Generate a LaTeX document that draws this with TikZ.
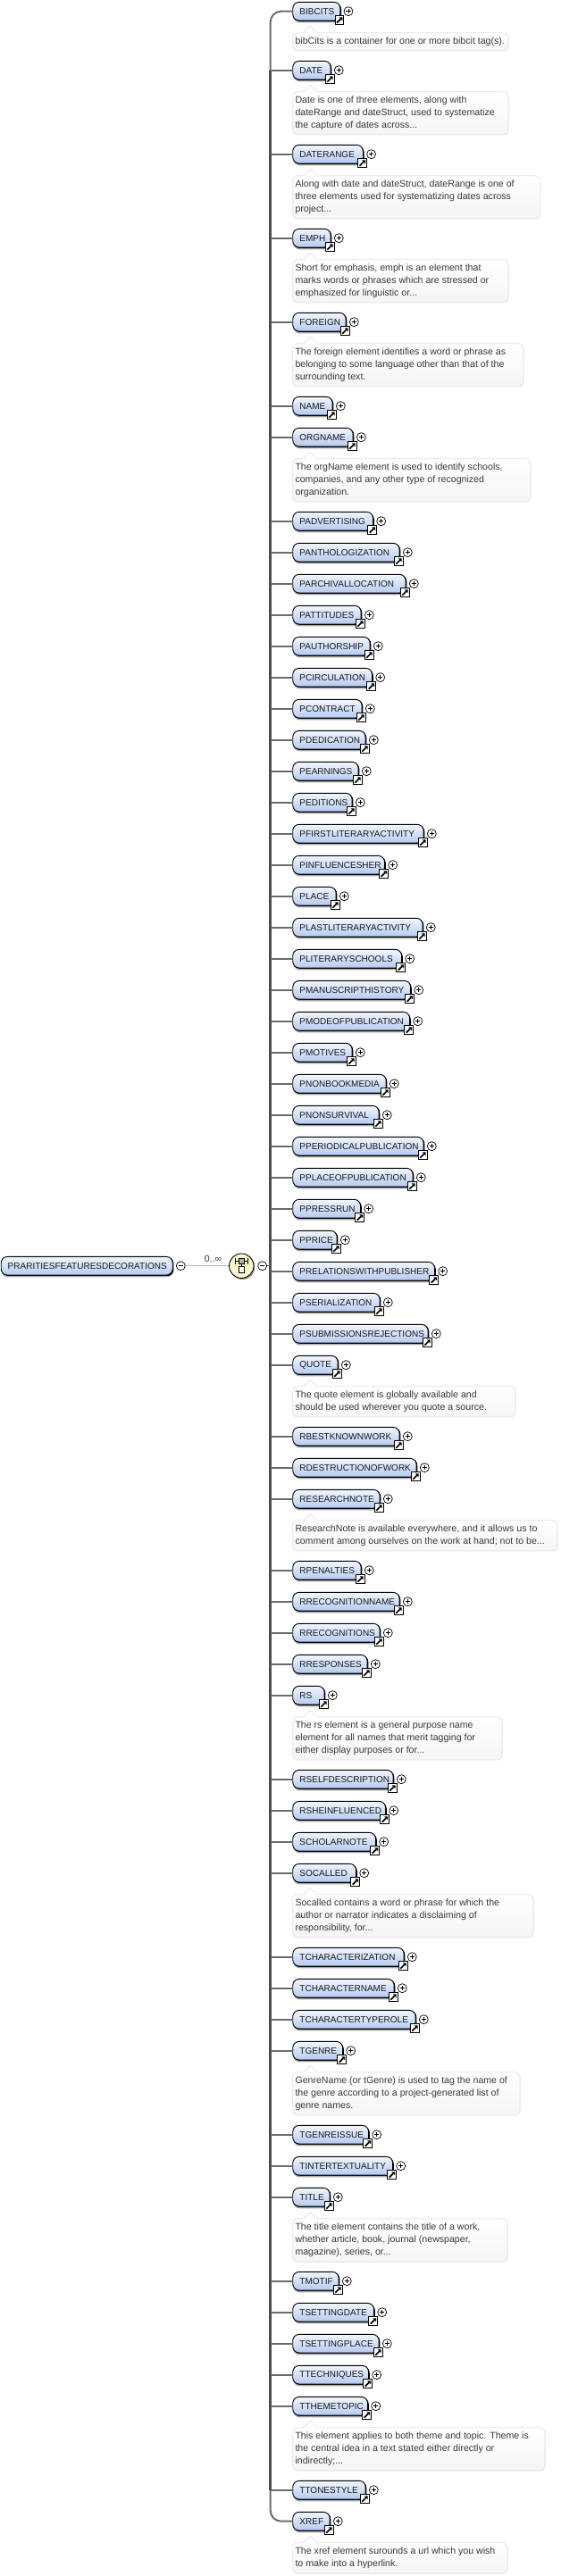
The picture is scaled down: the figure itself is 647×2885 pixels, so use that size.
\documentclass[tikz,border=0pt]{standalone}
\usepackage{fontspec}
\setmainfont{Liberation Sans}
\usetikzlibrary{shadows,calc}
\definecolor{boxtop}{HTML}{F2F6FE}
\definecolor{boxblue}{HTML}{B4CAF0}
\definecolor{annline}{HTML}{E2E2E2}
\definecolor{annfill}{HTML}{F5F5F5}
\definecolor{compfill}{HTML}{FAF7CC}
\tikzset{
  elembox/.style={draw=black,line width=0.9pt,rounded corners=7pt,top color=boxtop,bottom color=boxblue,
    minimum height=20.6pt,inner sep=0pt,anchor=west,text=black!90,
    font=\fontsize{10}{12}\selectfont,
    general shadow={fill=black!35,shadow xshift=0.6pt,shadow yshift=-2.4pt},
    general shadow={fill=black,shadow xshift=1.2pt,shadow yshift=-0.9pt}},
  linkicon/.style={draw=black,line width=1.1pt,fill=white,minimum size=9.6pt,inner sep=0pt},
  treebtn/.style={circle,draw=black,line width=0.7pt,fill=white,minimum size=10pt,inner sep=0pt},
  annbox/.style={draw=annline,line width=0.8pt,rounded corners=6pt,top color=white,bottom color=annfill,
    inner sep=0pt,anchor=north west,text=black!78,font=\fontsize{10.6}{14}\selectfont},
  branch/.style={draw=black!58,line width=2pt},
  spineend/.style={draw=black!58,line width=2pt,rounded corners=12pt},
  spinemain/.style={draw=black!70,line width=3.3pt},
}
% \elem{id}{label}{centre y}{x of the plus button}
\newcommand{\elem}[4]{%
  \pgfmathsetmacro{\elw}{#4-9.6-327.3}%
  \node[elembox,minimum width=\elw pt] (#1) at (327.3,#3) {\makebox[\elw pt][l]{\hspace*{7.7pt}#2}};
  \node[linkicon] (#1-link) at (#4-10,#3+10) {};
  \fill[black,shift={(#1-link.center)}] (-0.6,-3.4) -- (3.4,-3.4) -- (3.4,0.6) -- cycle;
  \draw[black,line width=1.7pt,shift={(#1-link.center)}] (-3,3) -- (1.4,-1.4);
  \node[treebtn] (#1-plus) at (#4,#3) {};
  \draw[black,line width=0.7pt] ($(#1-plus.center)+(-2.6,0)$) -- ($(#1-plus.center)+(2.6,0)$);
  \draw[black,line width=0.7pt] ($(#1-plus.center)+(0,-2.6)$) -- ($(#1-plus.center)+(0,2.6)$);
}
% \ann{id}{centre y of parent}{right edge}{height}{text}
\newcommand{\ann}[5]{%
  \pgfmathsetmacro{\anw}{#3-327.3}%
  \node[annbox,minimum width=\anw pt,minimum height=#4pt] (#1-ann) at (327.3,#2+23.7) {\makebox[\anw pt][l]{\hspace*{2.8pt}\begin{tabular}{@{}l@{}}#5\end{tabular}}};
  \fill[white] ($(#1-ann.north west)+(13,0.5)$) -- ($(#1-ann.north west)+(20,-7)$) -- ($(#1-ann.north west)+(27,0.5)$) -- cycle;
  \draw[annline,line width=0.8pt] ($(#1-ann.north west)+(13,0)$) -- ($(#1-ann.north west)+(20,-7)$) -- ($(#1-ann.north west)+(27,0)$);
}
\begin{document}
\begin{tikzpicture}[x=1pt,y=-1pt]
\useasboundingbox (0,0) rectangle (647,2885);
\coordinate (spt) at (302.7,12.67);
\coordinate (spb) at (302.7,2823.67);

\elem{BIBCITS}{BIBCITS}{12.67}{390}
\ann{BIBCITS}{12.67}{568.7}{20.3}{bibCits is a container for one or more bibcit tag(s).}
\elem{DATE}{DATE}{78.67}{379.3}
\ann{DATE}{78.67}{568.7}{48.3}{Date is one of three elements, along with\\dateRange and dateStruct, used to systematize\\the capture of dates across...}
\elem{DATERANGE}{DATERANGE}{172.67}{415.6}
\ann{DATERANGE}{172.67}{604.6}{48.3}{Along with date and dateStruct, dateRange is one of\\three elements used for systematizing dates across\\project...}
\elem{EMPH}{EMPH}{266.67}{379.3}
\ann{EMPH}{266.67}{568.7}{48.3}{Short for emphasis, emph is an element that\\marks words or phrases which are stressed or\\emphasized for linguistic or...}
\elem{FOREIGN}{FOREIGN}{360.67}{396.3}
\ann{FOREIGN}{360.67}{585.7}{48.3}{The foreign element identifies a word or phrase as\\belonging to some language other than that of the\\surrounding text.}
\elem{NAME}{NAME}{454.67}{381.3}
\elem{ORGNAME}{ORGNAME}{489.67}{404.3}
\ann{ORGNAME}{489.67}{593.7}{48.3}{The orgName element is used to identify schools,\\companies, and any other type of recognized\\organization.}
\elem{PADVERTISING}{PADVERTISING}{583.67}{426.7}
\elem{PANTHOLOGIZATION}{PANTHOLOGIZATION}{618.67}{456.3}
\elem{PARCHIVALLOCATION}{PARCHIVALLOCATION}{653.67}{463.3}
\elem{PATTITUDES}{PATTITUDES}{688.67}{413.3}
\elem{PAUTHORSHIP}{PAUTHORSHIP}{723.67}{423.3}
\elem{PCIRCULATION}{PCIRCULATION}{758.67}{425.7}
\elem{PCONTRACT}{PCONTRACT}{793.67}{414.3}
\elem{PDEDICATION}{PDEDICATION}{828.67}{418.3}
\elem{PEARNINGS}{PEARNINGS}{863.67}{410.3}
\elem{PEDITIONS}{PEDITIONS}{898.67}{403.3}
\elem{PFIRSTLITERARYACTIVITY}{PFIRSTLITERARYACTIVITY}{933.67}{483.3}
\elem{PINFLUENCESHER}{PINFLUENCESHER}{968.67}{439.7}
\elem{PLACE}{PLACE}{1003.67}{385.3}
\elem{PLASTLITERARYACTIVITY}{PLASTLITERARYACTIVITY}{1038.67}{482.3}
\elem{PLITERARYSCHOOLS}{PLITERARYSCHOOLS}{1073.67}{458.7}
\elem{PMANUSCRIPTHISTORY}{PMANUSCRIPTHISTORY}{1108.67}{468.7}
\elem{PMODEOFPUBLICATION}{PMODEOFPUBLICATION}{1143.67}{467.7}
\elem{PMOTIVES}{PMOTIVES}{1178.67}{403.3}
\elem{PNONBOOKMEDIA}{PNONBOOKMEDIA}{1213.67}{441.3}
\elem{PNONSURVIVAL}{PNONSURVIVAL}{1248.67}{433.3}
\elem{PPERIODICALPUBLICATION}{PPERIODICALPUBLICATION}{1283.67}{483.3}
\elem{PPLACEOFPUBLICATION}{PPLACEOFPUBLICATION}{1318.67}{471.3}
\elem{PPRESSRUN}{PPRESSRUN}{1353.67}{412.7}
\elem{PPRICE}{PPRICE}{1388.67}{386.3}
\elem{PRELATIONSWITHPUBLISHER}{PRELATIONSWITHPUBLISHER}{1423.67}{495.7}
\elem{PSERIALIZATION}{PSERIALIZATION}{1458.67}{434.3}
\elem{PSUBMISSIONSREJECTIONS}{PSUBMISSIONSREJECTIONS}{1493.67}{488.3}
\elem{QUOTE}{QUOTE}{1528.67}{387.3}
\ann{QUOTE}{1528.67}{576.7}{34.3}{The quote element is globally available and\\should be used wherever you quote a source.}
\elem{RBESTKNOWNWORK}{RBESTKNOWNWORK}{1608.67}{456.3}
\elem{RDESTRUCTIONOFWORK}{RDESTRUCTIONOFWORK}{1643.67}{475.3}
\elem{RESEARCHNOTE}{RESEARCHNOTE}{1678.67}{434.3}
\ann{RESEARCHNOTE}{1678.67}{623.7}{34.3}{ResearchNote is available everywhere, and it allows us to\\comment among ourselves on the work at hand; not to be...}
\elem{RPENALTIES}{RPENALTIES}{1758.67}{413.3}
\elem{RRECOGNITIONNAME}{RRECOGNITIONNAME}{1793.67}{456.3}
\elem{RRECOGNITIONS}{RRECOGNITIONS}{1828.67}{434.3}
\elem{RRESPONSES}{RRESPONSES}{1863.67}{420.3}
\elem{RS}{RS}{1898.67}{372.3}
\ann{RS}{1898.67}{561.7}{48.3}{The rs element is a general purpose name\\element for all names that merit tagging for\\either display purposes or for...}
\elem{RSELFDESCRIPTION}{RSELFDESCRIPTION}{1992.67}{449.3}
\elem{RSHEINFLUENCED}{RSHEINFLUENCED}{2027.67}{440.7}
\elem{SCHOLARNOTE}{SCHOLARNOTE}{2062.67}{429.7}
\elem{SOCALLED}{SOCALLED}{2097.67}{407.7}
\ann{SOCALLED}{2097.67}{596.7}{48.3}{Socalled contains a word or phrase for which the\\author or narrator indicates a disclaiming of\\responsibility, for...}
\elem{TCHARACTERIZATION}{TCHARACTERIZATION}{2191.67}{461.3}
\elem{TCHARACTERNAME}{TCHARACTERNAME}{2226.67}{450.3}
\elem{TCHARACTERTYPEROLE}{TCHARACTERTYPEROLE}{2261.67}{474.3}
\elem{TGENRE}{TGENRE}{2296.67}{392.7}
\ann{TGENRE}{2296.67}{581.7}{48.3}{GenreName (or tGenre) is used to tag the name of\\the genre according to a project-generated list of\\genre names.}
\elem{TGENREISSUE}{TGENREISSUE}{2390.67}{421.7}
\elem{TINTERTEXTUALITY}{TINTERTEXTUALITY}{2425.67}{448.7}
\elem{TITLE}{TITLE}{2460.67}{378.3}
\ann{TITLE}{2460.67}{567.7}{48.3}{The title element contains the title of a work,\\whether article, book, journal (newspaper,\\magazine), series, or...}
\elem{TMOTIF}{TMOTIF}{2554.67}{388.3}
\elem{TSETTINGDATE}{TSETTINGDATE}{2589.67}{427.7}
\elem{TSETTINGPLACE}{TSETTINGPLACE}{2624.67}{433.3}
\elem{TTECHNIQUES}{TTECHNIQUES}{2659.67}{421.7}
\elem{TTHEMETOPIC}{TTHEMETOPIC}{2694.67}{420.7}
\ann{TTHEMETOPIC}{2694.67}{609.7}{48.3}{This element applies to both theme and topic. Theme is\\the central idea in a text stated either directly or\\indirectly;...}
\elem{TTONESTYLE}{TTONESTYLE}{2788.67}{418.3}
\elem{XREF}{XREF}{2823.67}{378.3}
\ann{XREF}{2823.67}{567.7}{34.3}{The xref element surounds a url which you wish\\to make into a hyperlink.}

% spine
\draw[spineend] (BIBCITS.west) -- (spt) -- (spb) -- (XREF.west);
\draw[spinemain] (DATE.west -| spt) -- (TTONESTYLE.west -| spt);
\foreach \n in {DATE,DATERANGE,EMPH,FOREIGN,NAME,ORGNAME,PADVERTISING,PANTHOLOGIZATION,PARCHIVALLOCATION,PATTITUDES,PAUTHORSHIP,PCIRCULATION,PCONTRACT,PDEDICATION,PEARNINGS,PEDITIONS,PFIRSTLITERARYACTIVITY,PINFLUENCESHER,PLACE,PLASTLITERARYACTIVITY,PLITERARYSCHOOLS,PMANUSCRIPTHISTORY,PMODEOFPUBLICATION,PMOTIVES,PNONBOOKMEDIA,PNONSURVIVAL,PPERIODICALPUBLICATION,PPLACEOFPUBLICATION,PPRESSRUN,PPRICE,PRELATIONSWITHPUBLISHER,PSERIALIZATION,PSUBMISSIONSREJECTIONS,QUOTE,RBESTKNOWNWORK,RDESTRUCTIONOFWORK,RESEARCHNOTE,RPENALTIES,RRECOGNITIONNAME,RRECOGNITIONS,RRESPONSES,RS,RSELFDESCRIPTION,RSHEINFLUENCED,SCHOLARNOTE,SOCALLED,TCHARACTERIZATION,TCHARACTERNAME,TCHARACTERTYPEROLE,TGENRE,TGENREISSUE,TINTERTEXTUALITY,TITLE,TMOTIF,TSETTINGDATE,TSETTINGPLACE,TTECHNIQUES,TTHEMETOPIC,TTONESTYLE}
  {\draw[branch] (\n.west) -- (\n.west -| spt);}

% root element and compositor
\node[elembox,minimum width=192pt] (root) at (0.8,1417.7) {\makebox[192pt][l]{\hspace*{7.5pt}PRARITIESFEATURESDECORATIONS}};
\node[treebtn] (rootminus) at (202.3,1417.7) {};
\draw[black,line width=0.7pt] ($(rootminus.center)+(-2.6,0)$) -- ($(rootminus.center)+(2.6,0)$);
\node[circle,draw=black,line width=0.9pt,fill=compfill,minimum size=27.5pt,inner sep=0pt,
  general shadow={fill=black!40,shadow xshift=1.3pt,shadow yshift=-1.6pt}] (comp) at (270.3,1417.7) {};
\node[treebtn] (compminus) at (293.7,1417.7) {};
\draw[black,line width=0.7pt] ($(compminus.center)+(-2.6,0)$) -- ($(compminus.center)+(2.6,0)$);
\draw[black!30,line width=0.8pt] (rootminus) -- (comp);
\draw[black!58,line width=1.2pt] (compminus) -- (compminus -| spt);
\node[inner sep=0pt,text=black!80,font=\fontsize{10.6}{13}\selectfont] (occurs) at (238.5,1410.3) {0..∞};
\draw[black,line width=0.8pt,|-|] (262.5,1412.3) -- (278.2,1412.3);
\node[draw=black,line width=0.7pt,fill=black!30,minimum size=6.5pt,inner sep=0pt] (seqgray) at (270.3,1412.3) {};
\node[draw=black,line width=0.7pt,fill=white,minimum size=6.5pt,inner sep=0pt] (seqwhite) at (270.3,1421.7) {};
\draw[black,line width=0.7pt] (seqgray) -- (seqwhite);
\end{tikzpicture}
\end{document}
